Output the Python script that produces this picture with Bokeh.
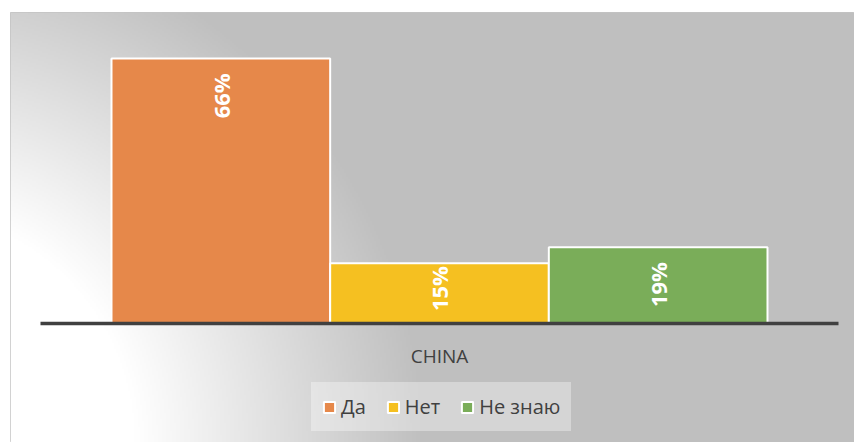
import numpy as np
from bokeh.plotting import figure
from bokeh.models import ColumnDataSource, Range1d, Legend, LegendItem
from bokeh.core.properties import value
from bokeh.embed import file_html
from bokeh.resources import INLINE

# ---- data ----
categories = ["Да", "Нет", "Не знаю"]
values = [66, 15, 19]
group = "CHINA"
colors = ["#E6884A", "#F5C021", "#7AAD59"]

# ---- layout ----
W, H = 854, 442
XR = (-0.9619, 2.8979)
YR = (-29.637, 77.456)

p = figure(width=W, height=H, output_backend="svg", toolbar_location=None,
           x_range=Range1d(*XR), y_range=Range1d(*YR),
           x_axis_location=None, y_axis_location=None,
           min_border_left=10, min_border_top=12, min_border_right=0, min_border_bottom=0)
p.grid.visible = False
p.outline_line_color = "#c4c4c4"
p.outline_line_width = 1
p.background_fill_color = "#bfbfbf"
p.border_fill_color = "white"

# background radial gradient (white at bottom-left to grey)
nx, ny, step = 422, 215, 2
px = 10 + (np.arange(nx) + 0.5) * step
py = 442 - (np.arange(ny) + 0.5) * step
X, Y = np.meshgrid(px, py)
d = np.hypot(X + 100, Y - 442)
t = np.clip((d - 235) / 290.0, 0, 1)
g = (255 - 64 * t).astype(np.uint8)
img = np.empty((ny, nx), dtype=np.uint32)
view = img.view(np.uint8).reshape(ny, nx, 4)
view[..., 0] = g
view[..., 1] = g
view[..., 2] = g
view[..., 3] = 255
p.image_rgba(image=[img], x=XR[0], y=YR[0], dw=XR[1] - XR[0], dh=YR[1] - YR[0])

vals = np.array(values, dtype=float)
src = ColumnDataSource(dict(
    x=list(range(len(categories))),
    top=values,
    cat=categories,
    color=colors,
    label=[f"{v}%" for v in values],
    ly=list(np.maximum(vals - 9.3, 8.7)),
))

r = p.vbar(x="x", top="top", bottom=0, width=1, fill_color="color",
           line_color="white", line_width=2, source=src)

# axis line
n = len(categories)
p.segment(x0=[-0.8247], y0=[0], x1=[n - 1 + 0.8247], y1=[0],
          line_color="#404040", line_width=3.5)

# data labels
p.text(x="x", y="ly", text="label", angle=np.pi / 2, text_align="center",
       text_baseline="middle", text_color="white", text_font=value("Open Sans"),
       text_font_style="bold", text_font_size="22px", source=src)

# category label
p.text(x=[(n - 1) / 2], y=[-8.2], text=[group], text_align="center",
       text_baseline="middle", text_color="#404040", text_font=value("Open Sans"),
       text_font_size="19px")

legend = Legend(
    items=[LegendItem(label=c, renderers=[r], index=i) for i, c in enumerate(categories)],
    orientation="horizontal", location=(301, 11), margin=0, padding=11,
    spacing=20, glyph_width=14, glyph_height=14, label_standoff=5,
    label_height=22, label_text_font="Open Sans", label_text_font_size="20px",
    label_text_color="#404040", background_fill_color="white",
    background_fill_alpha=0.35, border_line_alpha=0,
)
p.add_layout(legend)

open("out.html", "w").write(file_html(p, INLINE))
